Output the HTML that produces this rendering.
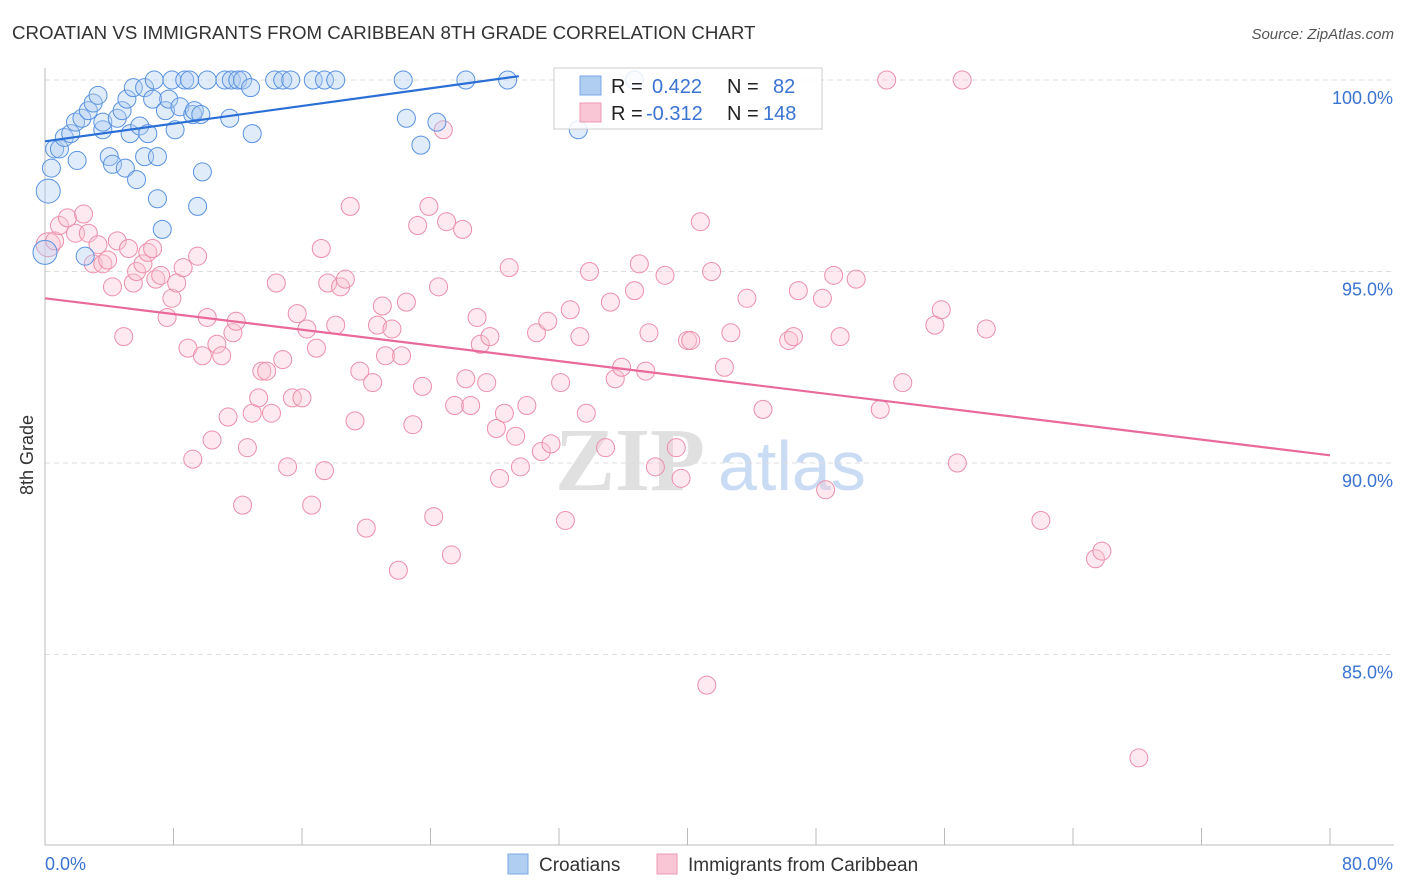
<!DOCTYPE html>
<html><head><meta charset="utf-8"><style>
body{margin:0;background:#fff;font-family:"Liberation Sans",sans-serif;}
#wrap{position:relative;width:1406px;height:892px;overflow:hidden;}
</style></head><body>
<div id="wrap">
<svg id="svg" width="1406" height="892" xmlns="http://www.w3.org/2000/svg">
<text x="12" y="39" font-size="18.7" fill="#333">CROATIAN VS IMMIGRANTS FROM CARIBBEAN 8TH GRADE CORRELATION CHART</text>
<text x="1394" y="39" font-size="15" fill="#555" font-style="italic" text-anchor="end">Source: ZipAtlas.com</text>
<text x="33" y="455" font-size="18" fill="#333" text-anchor="middle" transform="rotate(-90 33 455)">8th Grade</text>
<text x="555" y="490" font-size="90" fill="#e0e0e0" font-family="Liberation Serif" font-weight="bold">ZIP</text>
<text x="718" y="490" font-size="70" fill="#c9dcf3">atlas</text>
<g id="grid"></g><g id="pink"></g><g id="blue"></g><g id="lines"></g>
<g>
<rect x="554" y="68" width="268" height="61" fill="#fff" stroke="#ccc" fill-opacity="0.85"/>
<rect x="580" y="76" width="21" height="19" fill="#b0cdf2" stroke="#7aa7e6"/>
<rect x="580" y="103" width="21" height="19" fill="#f9c6d5" stroke="#ec9ab3"/>
<text x="611" y="93" font-size="20" fill="#222">R = </text><text x="652" y="93" font-size="20" fill="#3a73d0">0.422</text>
<text x="727" y="93" font-size="20" fill="#222">N = </text><text x="773" y="93" font-size="20" fill="#3a73d0">82</text>
<text x="611" y="120" font-size="20" fill="#222">R = </text><text x="646" y="120" font-size="20" fill="#3a73d0">-0.312</text>
<text x="727" y="120" font-size="20" fill="#222">N = </text><text x="763" y="120" font-size="20" fill="#3a73d0">148</text>
</g>
<g>
<rect x="508" y="854" width="20" height="20" fill="#b0cdf2" stroke="#7aa7e6"/>
<text x="539" y="871" font-size="19" fill="#333">Croatians</text>
<rect x="657" y="854" width="20" height="20" fill="#f9c6d5" stroke="#ec9ab3"/>
<text x="688" y="871" font-size="19" fill="#333">Immigrants from Caribbean</text>
</g>
</svg></div>
<script>
const xTicks=[0,8,16,24,32,40,48,56,64,72,80];
const yTicks=[100,95,90,85];
const blueX=[0.2,0,0.4,0.6,0.9,1.2,1.6,2.0,1.9,2.3,2.7,3.0,3.3,2.5,3.6,3.6,4.0,4.2,4.5,4.8,5.0,5.1,5.3,5.5,5.7,5.9,6.2,6.2,6.4,6.7,6.8,7.0,7.0,7.3,7.5,7.7,7.9,8.1,8.4,8.7,9.0,9.2,9.3,9.7,9.5,9.8,10.1,11.2,11.6,11.5,12.0,12.3,12.8,12.9,14.3,14.8,15.3,16.7,17.4,18.1,22.3,22.5,23.4,24.4,26.2,28.8,33.2,36.7];
const blueY=[97.1,95.5,97.7,98.2,98.2,98.5,98.6,97.9,98.9,99.0,99.2,99.4,99.6,95.4,98.7,98.9,98.0,97.8,99.0,99.2,97.7,99.5,98.6,99.8,97.4,98.8,99.8,98.0,98.6,99.5,100,98.0,96.9,96.1,99.2,99.5,100,98.7,99.3,100,100,99.1,99.2,99.1,96.7,97.6,100,100,100,99.0,100,100,99.8,98.6,100,100,100,100,100,100,100,99.0,98.3,98.9,100,100,98.7,100];
const pinkX=[0.2,0.6,0.9,1.4,1.9,2.4,2.7,3.0,3.3,3.6,3.9,4.2,4.5,4.9,5.2,5.5,5.7,6.1,6.4,6.7,6.9,7.2,7.6,7.9,8.2,8.6,8.9,9.2,9.5,9.8,10.1,10.4,10.7,11.0,11.4,11.7,11.9,12.3,12.6,12.9,13.3,13.5,13.8,14.1,14.4,14.8,15.1,15.4,15.7,16.0,16.3,16.6,16.9,17.2,17.4,17.6,18.1,18.4,18.7,19.0,19.3,19.6,20.0,20.4,20.7,21.0,21.2,21.6,22.0,22.2,22.5,22.9,23.2,23.5,23.9,24.2,24.5,24.8,25.0,25.3,25.5,26.0,26.2,26.5,26.9,27.1,27.5,27.7,28.1,28.3,28.6,28.9,29.3,29.6,30.0,30.6,30.9,31.3,31.5,32.1,32.4,32.7,33.3,33.7,33.9,34.9,35.2,35.5,35.9,36.7,37.0,37.4,37.6,38.0,38.6,39.3,39.6,40.0,40.2,40.8,41.2,41.5,42.3,42.7,43.7,44.7,46.3,46.6,46.9,48.4,48.6,49.1,49.5,50.5,52.0,52.4,53.4,55.4,55.8,56.8,57.1,58.6,62.0,65.4,65.8,68.1];
const pinkY=[95.7,95.8,96.2,96.4,96.0,96.5,96.0,95.2,95.7,95.2,95.3,94.6,95.8,93.3,95.6,94.7,95.0,95.2,95.5,95.6,94.8,94.9,93.8,94.3,94.7,95.1,93.0,90.1,95.4,92.8,93.8,90.6,93.1,92.8,91.2,93.4,93.7,88.9,90.4,91.3,91.7,92.4,92.4,91.3,94.7,92.7,89.9,91.7,93.9,91.7,93.5,88.9,93.0,95.6,89.8,94.7,93.6,94.6,94.8,96.7,91.1,92.4,88.3,92.1,93.6,94.1,92.8,93.5,87.2,92.8,94.2,91.0,96.2,92.0,96.7,88.6,94.6,98.7,96.3,87.6,91.5,96.1,92.2,91.5,93.8,93.1,92.1,93.3,90.9,89.6,91.3,95.1,90.7,89.9,91.5,93.4,90.3,93.7,90.5,92.1,88.5,94.0,93.3,91.3,95.0,90.4,94.2,92.2,92.5,94.5,95.2,92.4,93.4,89.9,94.9,90.4,89.6,93.2,93.2,96.3,84.2,95.0,92.5,93.4,94.3,91.4,93.2,93.3,94.5,94.3,89.3,94.9,93.3,94.8,91.4,100,92.1,93.6,94.0,90.0,100,93.5,88.5,87.5,87.7,82.3];
const blueTrend=[[0,98.4],[29.5,100.1]];
const pinkTrend=[[0,94.3],[80,90.2]];
const NS="http://www.w3.org/2000/svg";
const X=v=>45+v/80*1285, Y=v=>80+(100-v)*38.3;
function mk(tag,attrs,parent){const e=document.createElementNS(NS,tag);for(const k in attrs)e.setAttribute(k,attrs[k]);parent.appendChild(e);return e;}
const grid=document.getElementById('grid');
yTicks.forEach(t=>{
 const l=mk('line',{x1:45,x2:1394,y1:Y(t),y2:Y(t),stroke:'#ddd','stroke-dasharray':'5,4'},grid);
 
 
 const tx=mk('text',{x:1393,y:Y(t)+24,'font-size':18,fill:'#3a73d0','text-anchor':'end'},grid);
 tx.textContent=t.toFixed(1)+'%';
 
 
});
const ax=mk('line',{x1:45,x2:45,y1:68,y2:845,stroke:'#bbb'},grid);


const bx=mk('line',{x1:45,x2:1394,y1:845,y2:845,stroke:'#bbb'},grid);


xTicks.forEach(t=>{
 const l=mk('line',{x1:X(t),x2:X(t),y1:828,y2:845,stroke:'#bbb'},grid);
 
 
});
[[0,'start'],[80,'end']].forEach(([t,a])=>{
 const tx=mk('text',{x:t?1393:45,y:870,'font-size':18,fill:'#3a73d0','text-anchor':a},grid);
 tx.textContent=t.toFixed(1)+'%';
 
 
});
function dots(xs,ys,g,fill,stroke,name){
 xs.forEach((v,i)=>{
  const r=(i<2&&name==='croatian')||(i===0&&name==='caribbean')?12:9;
  const c=mk('circle',{cx:X(v),cy:Y(ys[i]),r:r,fill:fill,'fill-opacity':0.38,stroke:stroke,'stroke-width':1},g);
  
  
 });
}
dots(pinkX,pinkY,document.getElementById('pink'),'#f9c6d5','#ec8fab','caribbean');
dots(blueX,blueY,document.getElementById('blue'),'#b0cdf2','#5a92e0','croatian');
const lg=document.getElementById('lines');
const bl=mk('line',{x1:X(blueTrend[0][0]),y1:Y(blueTrend[0][1]),x2:X(blueTrend[1][0]),y2:Y(blueTrend[1][1]),stroke:'#2a6fd6','stroke-width':2.2},lg);


const pl=mk('line',{x1:X(pinkTrend[0][0]),y1:Y(pinkTrend[0][1]),x2:X(pinkTrend[1][0]),y2:Y(pinkTrend[1][1]),stroke:'#e8699a','stroke-width':2.2},lg);


</script>
</body></html>
